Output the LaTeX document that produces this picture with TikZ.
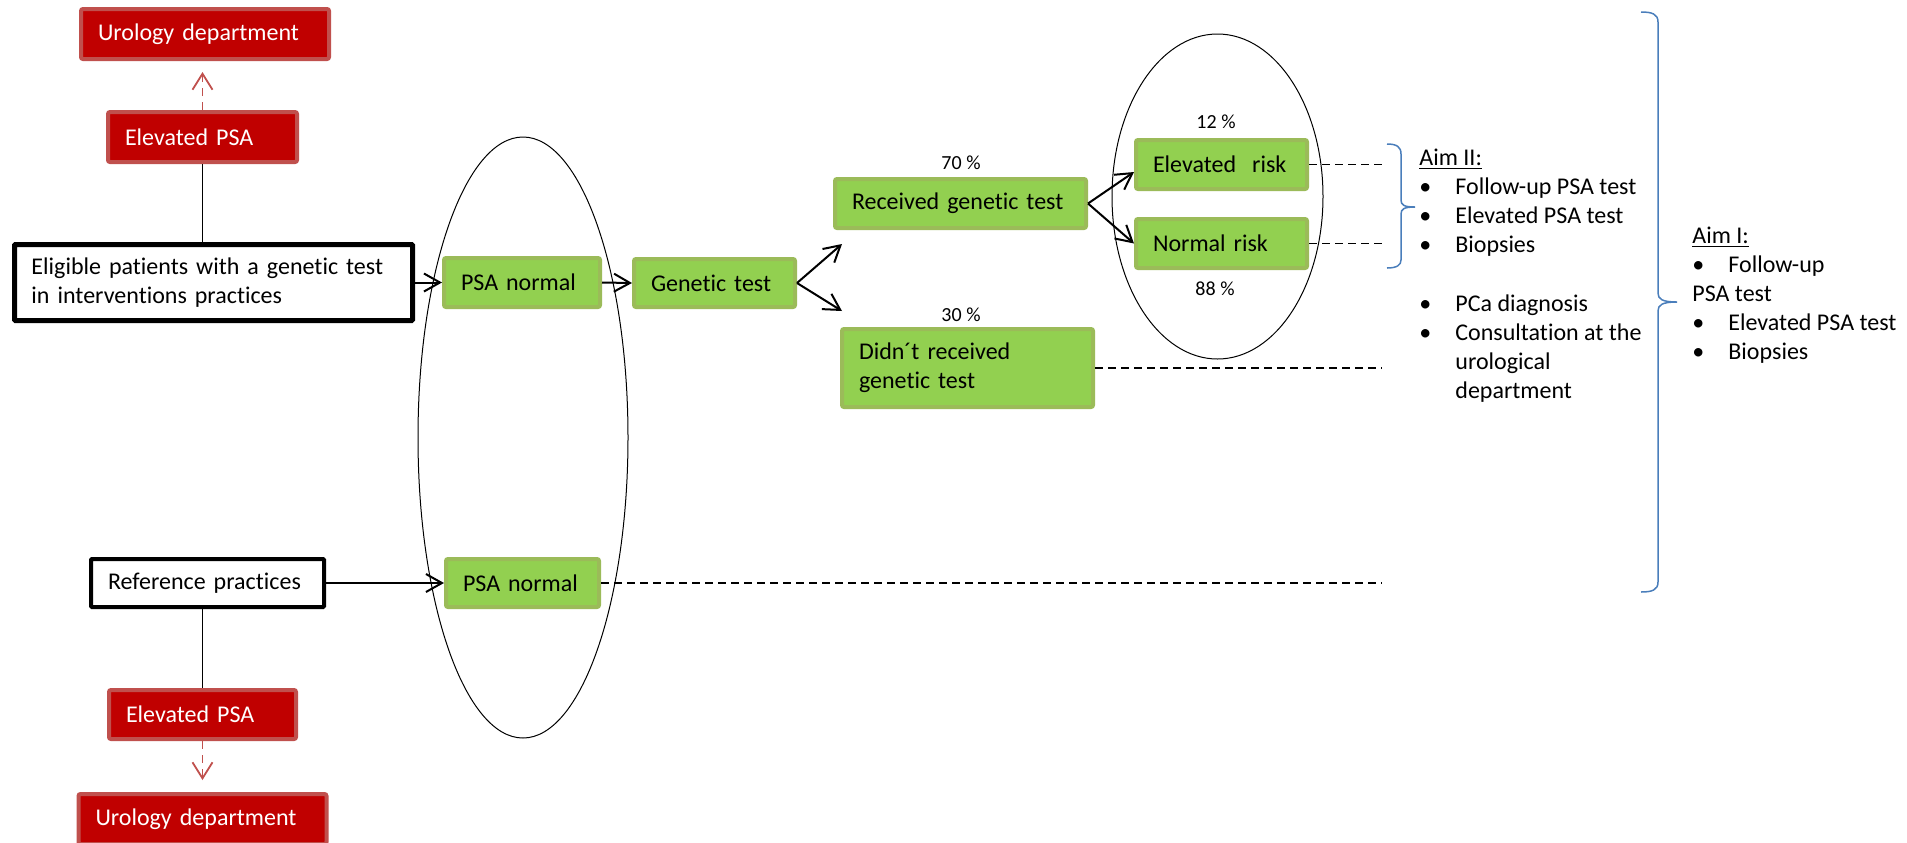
\documentclass[tikz,border=0pt]{standalone}
\usepackage{fontspec}
\setmainfont{Carlito}[Ligatures=NoCommon]
\usetikzlibrary{arrows.meta}
\definecolor{boxgreen}{HTML}{92D050}
\definecolor{greenline}{HTML}{9BBB59}
\definecolor{boxred}{HTML}{C00000}
\definecolor{redline}{HTML}{C0504D}
\definecolor{braceblue}{HTML}{4A7EBB}
\tikzset{
  box/.style={rounded corners=1pt,inner xsep=8.5pt,inner ysep=0pt,align=left,line width=2pt},
  greenbox/.style={box,draw=greenline,fill=boxgreen},
  redbox/.style={box,draw=redline,fill=boxred,text=white},
  whitebox/.style={box,draw=black,fill=white,rounded corners=.5pt},
  pct/.style={inner sep=0pt,font=\fontsize{10}{12}\selectfont},
  aimtext/.style={inner sep=0pt,anchor=base west},
  arr/.style={line width=1pt,-{Straight Barb[length=8pt,width=9pt]}},
  redarr/.style={line width=.9pt,redline,dash pattern=on 4pt off 3pt,-{Straight Barb[length=8pt,width=10pt]}},
  dashline/.style={line width=.75pt,dash pattern=on 4pt off 2.5pt},
  brace/.style={line width=.75pt,braceblue}
}

\begin{document}
\begin{tikzpicture}[x=.5pt,y=-.5pt,font=\fontsize{12}{14.6}\selectfont]
\useasboundingbox (0,0) rectangle (1907,842);
%
\draw[line width=.5pt] (523,437.5) ellipse [x radius=52.5pt,y radius=150.25pt];
\draw[line width=.5pt] (1217.5,196.5) ellipse [x radius=52.75pt,y radius=81.25pt];
%
\node[redbox,text width=107pt,minimum height=25pt] (urotop) at (205,34) {Urology department};
\node[redbox,text width=77.5pt,minimum height=25pt] (elevtop) at (202.5,137) {Elevated PSA};
\node[whitebox,line width=2.5pt,text width=182pt,minimum height=38pt] (eligible) at (213.5,282.5)
  {Eligible patients with a genetic test\\in interventions practices};
\node[greenbox,text width=61pt,minimum height=24.5pt] (psa1) at (522,282.5) {PSA normal};
\node[greenbox,text width=63.5pt,minimum height=24pt] (gentest) at (714.5,283) {Genetic test};
\node[greenbox,text width=108.5pt,minimum height=24.5pt] (received) at (960.5,203.5) {Received genetic test};
\node[greenbox,text width=108.5pt,minimum height=39pt] (didnt) at (967.5,368) {Didn´t received\\genetic test};
\node[greenbox,text width=68.5pt,minimum height=24.5pt] (elevrisk) at (1221.5,164.5) {Elevated\ \ risk};
\node[greenbox,text width=68.5pt,minimum height=24.5pt] (normrisk) at (1221.5,243.5) {Normal risk};
%
\node[whitebox,text width=99.5pt,minimum height=24pt] (reference) at (207.5,583) {Reference practices};
\node[greenbox,text width=59.5pt,minimum height=24pt] (psa2) at (522.5,583) {PSA normal};
\node[redbox,text width=76.5pt,minimum height=24.5pt] (elevbot) at (202.5,714.5) {Elevated PSA};
\node[redbox,text width=107pt,minimum height=25pt] (urobot) at (202.5,819) {Urology department};
%
\node[pct] (p70) at (961,163) {70 \%};
\node[pct] (p30) at (961,315) {30 \%};
\node[pct] (p12) at (1216,122) {12 \%};
\node[pct] (p88) at (1215,289) {88 \%};
%
\coordinate (gtup) at (842,244);
\coordinate (gtdown) at (842,311);
\coordinate (endx) at (1382,0);
%
\draw[redarr,shorten >=5.5pt] (elevtop.north) -- (elevtop.north |- urotop.south);
\draw[line width=.9pt] (elevtop.south) -- (elevtop.south |- eligible.north);
\draw[arr] (eligible.east) -- (psa1.west);
\draw[arr] (psa1.east) -- (gentest.west);
\draw[arr] (gentest.east) -- (gtup);
\draw[arr] (gentest.east) -- (gtdown);
\draw[arr] (received.east) -- ([yshift=-3.75pt]elevrisk.west);
\draw[arr] (received.east) -- (normrisk.west);
\draw[arr] (reference.east) -- (psa2.west);
\draw[line width=.9pt] (elevbot.north |- reference.south) -- (elevbot.north);
\draw[redarr,shorten >=6pt] (elevbot.south) -- (elevbot.south |- urobot.north);
%
\draw[dashline] (elevrisk.east) -- (elevrisk.east -| endx);
\draw[dashline] (normrisk.east) -- (normrisk.east -| endx);
\draw[dashline] (didnt.east) -- (didnt.east -| endx);
\draw[dashline] (psa2.east) -- (psa2.east -| endx);
%
\draw[brace] (1387,144) .. controls (1397,144) and (1401,147) .. (1401,154) -- (1401,200)
  .. controls (1401,205) and (1404,207) .. (1415,207) .. controls (1404,207) and (1401,209) .. (1401,214)
  -- (1401,260) .. controls (1401,265) and (1397,268) .. (1387,268);
\draw[brace] (1641,12) .. controls (1652,12) and (1658,14) .. (1658,22) -- (1658,293)
  .. controls (1658,299) and (1662,302) .. (1677,302) .. controls (1662,302) and (1658,305) .. (1658,311)
  -- (1658,582) .. controls (1658,590) and (1652,592) .. (1641,592);
%
\node[aimtext] (aimII) at (1419,165) {\begin{tabular}[t]{@{}p{18pt}@{}l@{}}
\multicolumn{2}{@{}l@{}}{\underline{Aim II:}}\\
\textbullet & Follow-up PSA test\\
\textbullet & Elevated PSA test\\
\textbullet & Biopsies\\
 & \\
\textbullet & PCa diagnosis\\
\textbullet & Consultation at the\\
 & urological\\
 & department
\end{tabular}};
\node[aimtext] (aimI) at (1692,243) {\begin{tabular}[t]{@{}p{18pt}@{}l@{}}
\multicolumn{2}{@{}l@{}}{\underline{Aim I:}}\\
\textbullet & Follow-up\\
\multicolumn{2}{@{}l@{}}{PSA test}\\
\textbullet & Elevated PSA test\\
\textbullet & Biopsies
\end{tabular}};
\end{tikzpicture}
\end{document}
